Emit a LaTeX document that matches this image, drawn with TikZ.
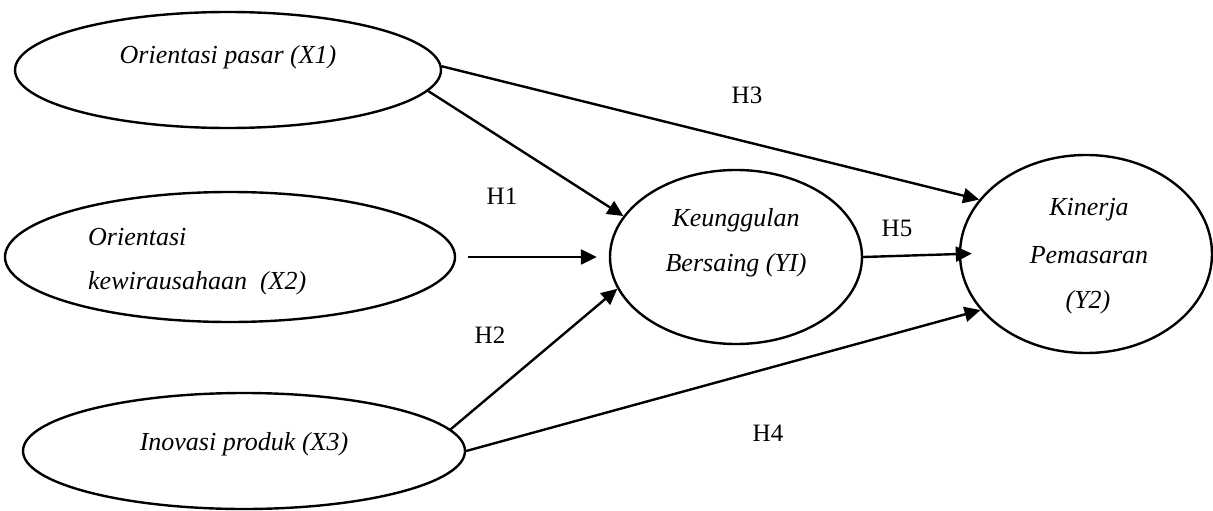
\documentclass[tikz,border=0pt]{standalone}
\usepackage{fontspec}
\setmainfont{Liberation Serif}
\usetikzlibrary{shapes.geometric,arrows.meta}

\begin{document}
\begin{tikzpicture}[x=1pt,y=-1pt,
  latent/.style={draw,ellipse,line width=2.4pt,inner sep=0pt},
  lbl/.style={font=\fontsize{26}{30}\selectfont\itshape,inner sep=0pt,anchor=center},
  hyp/.style={font=\fontsize{25}{28}\selectfont,inner sep=0pt},
  path/.style={line width=2.4pt,-{Triangle[length=16pt,width=15pt]}}]
\useasboundingbox (0,0) rectangle (1213,511);

% constructs
\node[latent,minimum width=426pt,minimum height=116pt] (X1) at (228,70) {};
\node[latent,minimum width=450pt,minimum height=130pt] (X2) at (230,257) {};
\node[latent,minimum width=442pt,minimum height=116pt] (X3) at (244,451) {};
\node[latent,minimum width=252pt,minimum height=174pt] (Y1) at (736,257) {};
\node[latent,minimum width=252pt,minimum height=198pt] (Y2) at (1086,254) {};

% construct names
\node[lbl] (tX1) at (228,57) {Orientasi pasar (X1)};
\node[lbl,anchor=west] (tX2a) at (88,237) {Orientasi};
\node[lbl,anchor=west] (tX2b) at (88,283) {kewirausahaan\ \ (X2)};
\node[lbl] (tX3) at (244,444) {Inovasi produk (X3)};
\node[lbl] (tY1a) at (736,220) {Keunggulan};
\node[lbl] (tY1b) at (736,265) {Bersaing (YI)};
\node[lbl] (tY2a) at (1089,210) {Kinerja};
\node[lbl] (tY2b) at (1089,255) {Pemasaran};
\node[lbl] (tY2c) at (1088,302) {(Y2)};

% hypothesised paths
\draw[path] (X1.-6.6) -- (Y1.160.7);
\draw[path] (X1.1) -- (Y2.153.9);
\draw[path,shorten <=12pt,shorten >=12pt] (X2.east) -- (Y1.west);
\draw[path] (X3.6.2) -- (Y1.195.9);
\draw[path] (X3.-0.5) -- (Y2.208.6);
\draw[path,shorten >=-13pt] (Y1.east) -- (Y2.west);

% hypothesis labels
\node[hyp] (H1) at (502,196) {H1};
\node[hyp] (H2) at (490,335) {H2};
\node[hyp] (H3) at (747,95) {H3};
\node[hyp] (H4) at (768,433) {H4};
\node[hyp] (H5) at (897,228) {H5};
\end{tikzpicture}
\end{document}
